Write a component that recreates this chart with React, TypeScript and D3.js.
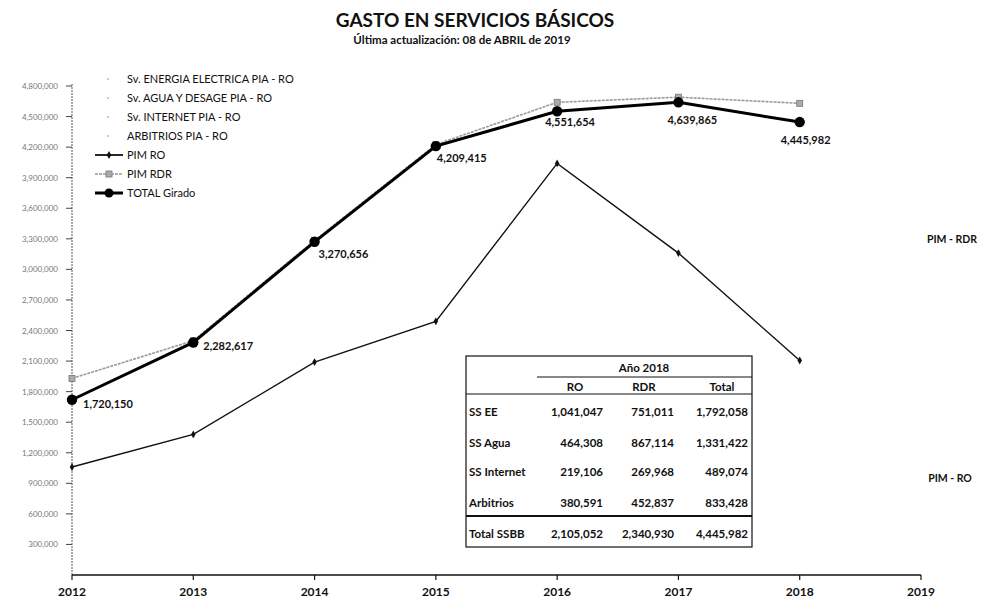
import React from "react";
import * as d3 from "d3";

const years = [2012, 2013, 2014, 2015, 2016, 2017, 2018];
const totalGirado = [1720150, 2282617, 3270656, 4209415, 4551654, 4639865, 4445982];
const pimRDR = [1930000, 2300000, 3285000, 4225000, 4640000, 4690000, 4630000];
const pimRO = [1060000, 1380000, 2090000, 2490000, 4040000, 3160000, 2105052];
const yTicks = [300000, 600000, 900000, 1200000, 1500000, 1800000, 2100000, 2400000, 2700000, 3000000, 3300000, 3600000, 3900000, 4200000, 4500000, 4800000];
const xTicks = [2012, 2013, 2014, 2015, 2016, 2017, 2018, 2019];
const legendItems = [
  "Sv. ENERGIA ELECTRICA PIA - RO",
  "Sv. AGUA Y DESAGE PIA - RO",
  "Sv. INTERNET PIA - RO",
  "ARBITRIOS PIA - RO",
  "PIM RO",
  "PIM RDR",
  "TOTAL Girado",
];
const tableCols = ["RO", "RDR", "Total"];
const tableRows = ["SS EE", "SS Agua", "SS Internet", "Arbitrios"];
const tableRO = [1041047, 464308, 219106, 380591];
const tableRDR = [751011, 867114, 269968, 452837];
const tableTotal = [1792058, 1331422, 489074, 833428];
const totalRow = ["Total SSBB", 2105052, 2340930, 4445982];

// label placement offsets (dx, dy) for total labels
const labelOffsets: [number, number][] = [
  [11, 8], [10, 8], [4, 16], [1, 16], [-12, 15], [-11, 22], [-19, 22],
];

const FONT = "Lato, 'Open Sans', sans-serif";

export default function App() {
  const x = d3.scaleLinear().domain([2012, 2019]).range([72, 921]);
  const y = d3.scaleLinear().domain([0, 4800000]).range([575, 86]);
  const fmt = d3.format(",");

  const line = (vals: number[]) =>
    d3.line<number>().x((_, i) => x(years[i])).y((v) => y(v))(vals) || "";

  const legendY = (i: number) => 79 + i * 19;

  // table geometry
  const tL = 466, tR = 752, tT = 356, tB = 547;
  const colRight = [603, 674, 748];
  const rowY = [412, 443, 472, 503];
  const TF = 11.5;

  return (
    <svg width={982} height={599} style={{ position: "absolute", left: 0, top: 0, background: "#fff" }} fontFamily={FONT}>
      <rect width={982} height={599} fill="#fff" />
      {/* Title */}
      <text x={475} y={27} textAnchor="middle" fontSize={19} fontWeight={700} fill="#111">GASTO EN SERVICIOS BÁSICOS</text>
      <text x={462} y={44} textAnchor="middle" fontSize={11.5} fontWeight={700} fill="#111">Última actualización: 08 de ABRIL de 2019</text>

      {/* Y axis */}
      <line x1={72} x2={72} y1={84} y2={575} stroke="#555" strokeWidth={1} strokeDasharray="2,1" />
      {yTicks.map((t) => (
        <g key={t}>
          <line x1={66} x2={72} y1={y(t)} y2={y(t)} stroke="#444" />
          <text x={58} y={y(t) + 3} textAnchor="end" fontSize={8} fill="#777">{fmt(t)}</text>
        </g>
      ))}

      {/* X axis */}
      <line x1={72} x2={921} y1={575} y2={575} stroke="#111" strokeWidth={1.5} />
      {xTicks.map((t) => (
        <g key={t}>
          <line x1={x(t)} x2={x(t)} y1={575} y2={580} stroke="#111" strokeWidth={1.2} />
          <text x={x(t)} y={596} textAnchor="middle" fontSize={12} fontWeight={700} fill="#111">{t}</text>
        </g>
      ))}

      {/* PIM RO */}
      <path d={line(pimRO)} fill="none" stroke="#111" strokeWidth={1.4} />
      {pimRO.map((v, i) => (
        <path key={i} d={d3.symbol(d3.symbolDiamond, 18)() || ""} transform={`translate(${x(years[i])},${y(v)})`} fill="#111" />
      ))}

      {/* PIM RDR */}
      <path d={line(pimRDR)} fill="none" stroke="#9a9a9a" strokeWidth={1.6} strokeDasharray="3,1" />
      {pimRDR.map((v, i) => (
        <rect key={i} x={x(years[i]) - 3} y={y(v) - 3} width={6} height={6} fill="#aaa" stroke="#777" strokeWidth={0.8} />
      ))}

      {/* TOTAL Girado */}
      <path d={line(totalGirado)} fill="none" stroke="#000" strokeWidth={3} />
      {totalGirado.map((v, i) => (
        <g key={i}>
          <circle cx={x(years[i])} cy={y(v)} r={5.2} fill="#000" />
          <text x={x(years[i]) + labelOffsets[i][0]} y={y(v) + labelOffsets[i][1]} fontSize={11} fontWeight={700} fill="#111">{fmt(v)}</text>
        </g>
      ))}

      {/* Right labels */}
      <text x={952} y={243} textAnchor="middle" fontSize={10.5} fontWeight={700} fill="#111">PIM - RDR</text>
      <text x={950} y={482} textAnchor="middle" fontSize={10.5} fontWeight={700} fill="#111">PIM - RO</text>

      {/* Legend */}
      {legendItems.map((name, i) => {
        const ly = legendY(i);
        let sym = null;
        if (i < 4) {
          sym = <circle cx={108} cy={ly} r={0.8} fill="#888" />;
        } else if (i === 4) {
          sym = (
            <g>
              <line x1={95} x2={123} y1={ly} y2={ly} stroke="#111" strokeWidth={1.8} />
              <path d={d3.symbol(d3.symbolDiamond, 18)() || ""} transform={`translate(109,${ly})`} fill="#111" />
            </g>
          );
        } else if (i === 5) {
          sym = (
            <g>
              <line x1={95} x2={123} y1={ly} y2={ly} stroke="#999" strokeWidth={1.6} strokeDasharray="3,1" />
              <rect x={106} y={ly - 3} width={6} height={6} fill="#aaa" stroke="#777" strokeWidth={0.8} />
            </g>
          );
        } else {
          sym = (
            <g>
              <line x1={95} x2={123} y1={ly} y2={ly} stroke="#000" strokeWidth={3} />
              <circle cx={109} cy={ly} r={4.5} fill="#000" />
            </g>
          );
        }
        return (
          <g key={name}>
            {sym}
            <text x={127} y={ly + 4} fontSize={11} fill="#111">{name}</text>
          </g>
        );
      })}

      {/* Table */}
      <rect x={tL} y={tT} width={tR - tL} height={tB - tT} fill="#fff" stroke="#111" strokeWidth={1.2} />
      <text x={644} y={372} textAnchor="middle" fontSize={TF} fontWeight={700} fill="#111">Año 2018</text>
      <line x1={537} x2={tR} y1={377} y2={377} stroke="#111" strokeWidth={1} />
      {tableCols.map((c, j) => (
        <text key={c} x={[575, 644, 722][j]} y={391} textAnchor="middle" fontSize={TF} fontWeight={700} fill="#111">{c}</text>
      ))}
      <line x1={tL} x2={tR} y1={394} y2={394} stroke="#111" strokeWidth={1.2} />
      {tableRows.map((r, i) => (
        <g key={r}>
          <text x={469} y={rowY[i] + 4} fontSize={TF} fontWeight={700} fill="#111">{r}</text>
          {[tableRO[i], tableRDR[i], tableTotal[i]].map((v, j) => (
            <text key={j} x={colRight[j]} y={rowY[i] + 4} textAnchor="end" fontSize={TF} fontWeight={700} fill="#111">{fmt(v)}</text>
          ))}
        </g>
      ))}
      <line x1={tL} x2={tR} y1={516} y2={516} stroke="#111" strokeWidth={2} />
      <text x={469} y={538} fontSize={TF} fontWeight={700} fill="#111">{totalRow[0]}</text>
      {totalRow.slice(1).map((v, j) => (
        <text key={j} x={colRight[j]} y={538} textAnchor="end" fontSize={TF} fontWeight={700} fill="#111">{fmt(v as number)}</text>
      ))}
    </svg>
  );
}
